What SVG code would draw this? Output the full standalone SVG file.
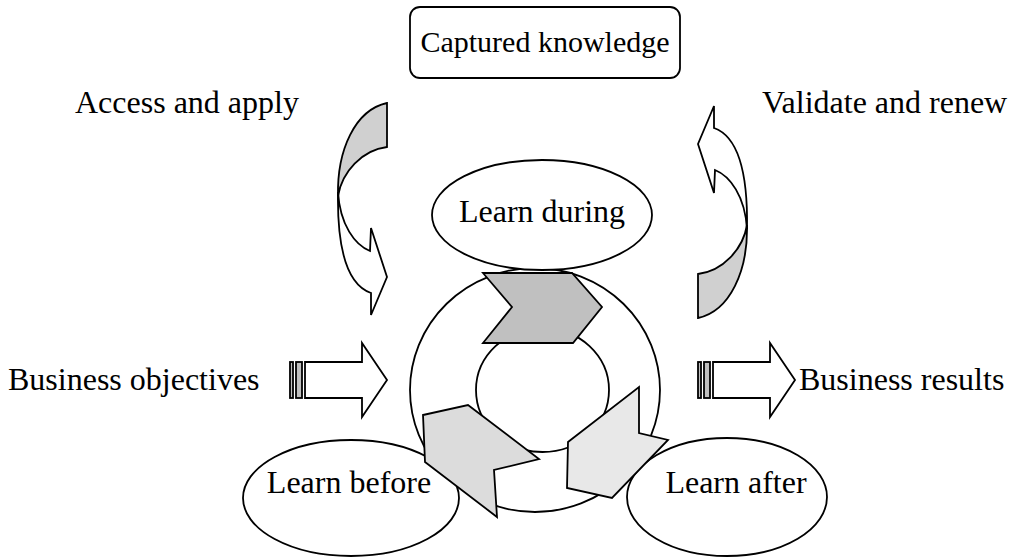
<svg xmlns="http://www.w3.org/2000/svg" width="1016" height="560" viewBox="0 0 1016 560">
<style>
.s{stroke:#000;stroke-width:1.8;stroke-linejoin:miter}
.w{fill:#fff}
.t{font-family:"Liberation Serif","Times New Roman",serif;font-size:32px;fill:#000}
</style>
<defs>
<g id="curved">
<path class="s w" d="M338,192 C337,250 348,285 371,293 L371,315 L387,277 L371,228 L370,251 C355,245 340,225 338,192 Z"/>
<path class="s" fill="#d0d0d0" d="M387,103 L387,147 C362,150 342,172 338,196 C337,150 355,110 387,103 Z"/>
</g>
<g id="striped">
<rect class="s" fill="#c0c0c0" x="290" y="362" width="3" height="36"/>
<rect class="s" fill="#c0c0c0" x="296" y="362" width="6" height="36"/>
<polygon class="s w" points="305,362 362,362 362,343 387,380 362,417 362,398 305,398"/>
</g>
</defs>
<rect width="1016" height="560" fill="#fff"/>
<g id="captured">
<rect class="s w" x="410" y="7" width="270" height="71" rx="10"/>
<text class="t" x="545" y="52" text-anchor="middle" style="font-size:30px">Captured knowledge</text>
</g>
<g id="ring">
<ellipse class="s w" cx="535" cy="390" rx="125" ry="122"/>
<ellipse class="s w" cx="542.5" cy="390" rx="66.5" ry="62"/>
</g>
<g id="learn-during">
<ellipse class="s w" cx="542" cy="215" rx="110" ry="55"/>
<text class="t" x="542" y="222" text-anchor="middle">Learn during</text>
</g>
<g id="learn-before">
<ellipse class="s w" cx="351" cy="498" rx="108" ry="58"/>
<text class="t" x="349" y="493" text-anchor="middle">Learn before</text>
</g>
<g id="learn-after">
<ellipse class="s w" cx="727" cy="497" rx="100" ry="59"/>
<text class="t" x="736" y="493" text-anchor="middle">Learn after</text>
</g>
<g id="cycle-arrows">
<polygon class="s" fill="#c0c0c0" points="483,273 572,273 602,307 573,343 483,343 512,307"/>
<polygon class="s" fill="#dcdcdc" points="423,415 468,405 539,459 494,470 497,517 425,462"/>
<polygon class="s" fill="#e8e8e8" points="639,387 639,433 668,440 612,498 567,488 568,442"/>
</g>
<g id="connectors">
<use href="#curved"/>
<use href="#curved" transform="rotate(180 542.5 210.5)"/>
<use href="#striped"/>
<use href="#striped" transform="translate(408 0)"/>
</g>
<g id="labels">
<text class="t" x="75" y="113">Access and apply</text>
<text class="t" x="762" y="113">Validate and renew</text>
<text class="t" x="8" y="390">Business objectives</text>
<text class="t" x="799" y="390">Business results</text>
</g>
</svg>
